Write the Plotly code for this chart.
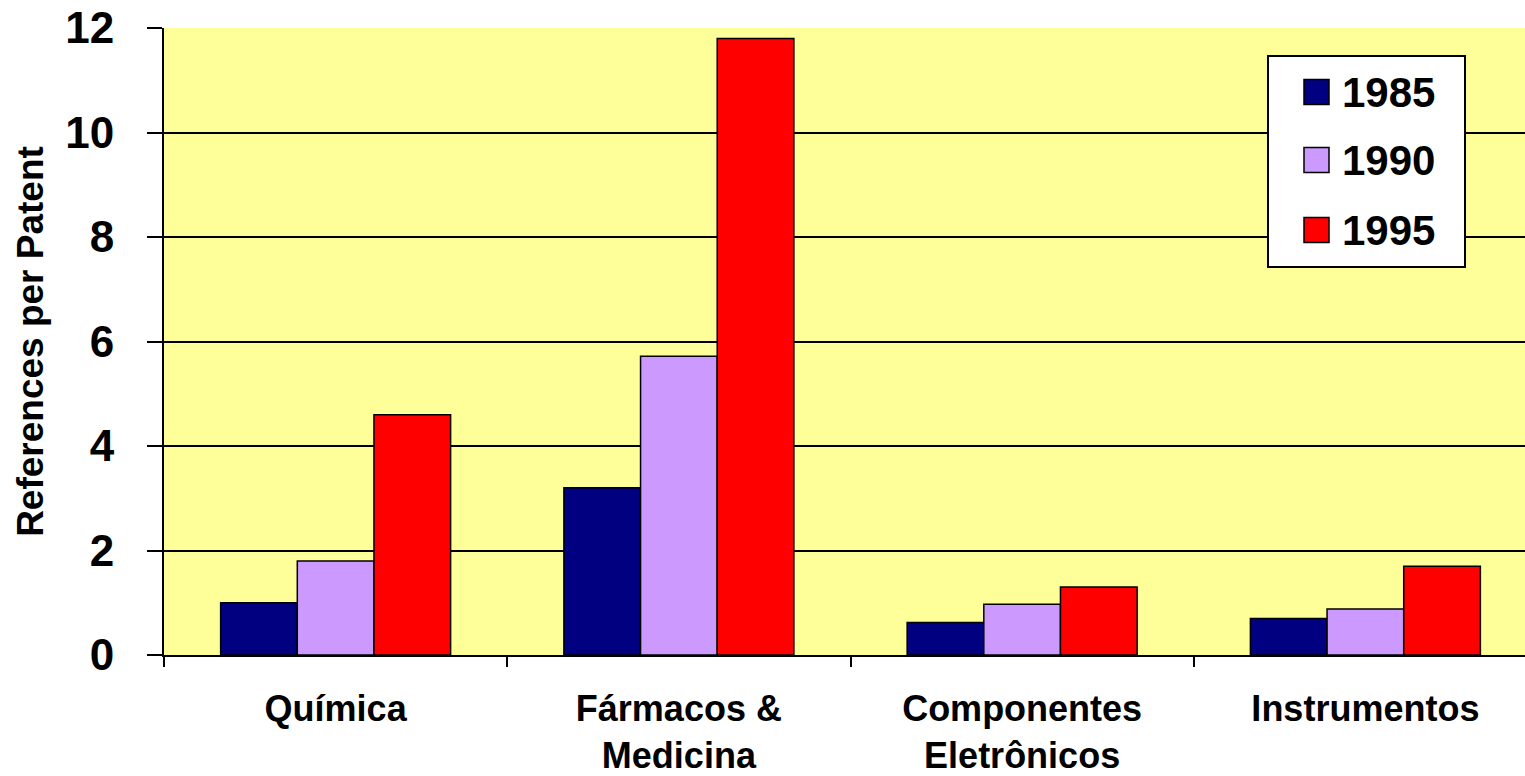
import plotly.graph_objects as go

categories = ["Química", "Fármacos &<br>Medicina", "Componentes<br>Eletrônicos", "Instrumentos"]
years = ["1985", "1990", "1995"]
values_1985 = [1.0, 3.2, 0.62, 0.7]
values_1990 = [1.8, 5.72, 0.97, 0.88]
values_1995 = [4.6, 11.8, 1.3, 1.7]
colors = ["#000080", "#CC99FF", "#FF0000"]
y_ticks = [0, 2, 4, 6, 8, 10, 12]

series = [values_1985, values_1990, values_1995]

W, H = 1525, 776
L, R, T, B = 164, 0, 28, 121
FONT = "Liberation Sans, Arial, sans-serif"

fig = go.Figure()
for name, vals, col in zip(years, series, colors):
    fig.add_trace(go.Bar(
        x=categories, y=vals, name=name, showlegend=False,
        marker=dict(color=col, line=dict(color="black", width=1.5)),
    ))

# custom legend (pixel layout -> paper coords)
pw, ph = W - L - R, H - T - B
def px(x):
    return (x - L) / pw
def py(y):
    return (H - B - y) / ph

shapes = [dict(type="rect", xref="paper", yref="paper",
               x0=px(1268), x1=px(1465), y0=py(267), y1=py(56),
               fillcolor="white", line=dict(color="black", width=2), layer="above")]
annotations = []
row_y = [92, 160, 230]
for name, col, ry in zip(years, colors, row_y):
    shapes.append(dict(type="rect", xref="paper", yref="paper",
                       x0=px(1304), x1=px(1329), y0=py(ry + 12.5), y1=py(ry - 12.5),
                       fillcolor=col, line=dict(color="black", width=1.5), layer="above"))
    annotations.append(dict(xref="paper", yref="paper", x=px(1340), y=py(ry),
                            text=name, showarrow=False, xanchor="left", yanchor="middle",
                            font=dict(family=FONT, size=42, color="black", weight="bold")))

fig.update_layout(
    width=W, height=H,
    margin=dict(l=L, r=R, t=T, b=B, pad=0, autoexpand=False),
    paper_bgcolor="white", plot_bgcolor="#FFFF99",
    barmode="group", bargap=0.33, bargroupgap=0,
    shapes=shapes, annotations=annotations,
    font=dict(family=FONT, color="black"),
)
fig.update_xaxes(
    type="category", range=[-0.5, 3.465], automargin=False,
    showline=True, linecolor="black", linewidth=2,
    ticks="outside", tickson="boundaries", ticklen=10, tickwidth=1.5, tickcolor="black",
    tickfont=dict(family=FONT, size=36, color="black", weight="bold"),
    ticklabelstandoff=21,
    showgrid=False,
)
fig.update_yaxes(
    range=[0, 12], tickvals=y_ticks, automargin=False,
    showline=True, linecolor="black", linewidth=2,
    ticks="outside", ticklen=15, tickwidth=1.5, tickcolor="black",
    tickfont=dict(family=FONT, size=44, color="black", weight="bold"),
    ticklabelstandoff=24,
    showgrid=True, gridcolor="black", gridwidth=1.5,
    zeroline=False,
    title=dict(text="References per Patent", standoff=10,
               font=dict(family=FONT, size=37, color="black", weight="bold")),
)

fig.write_html("out.html")
